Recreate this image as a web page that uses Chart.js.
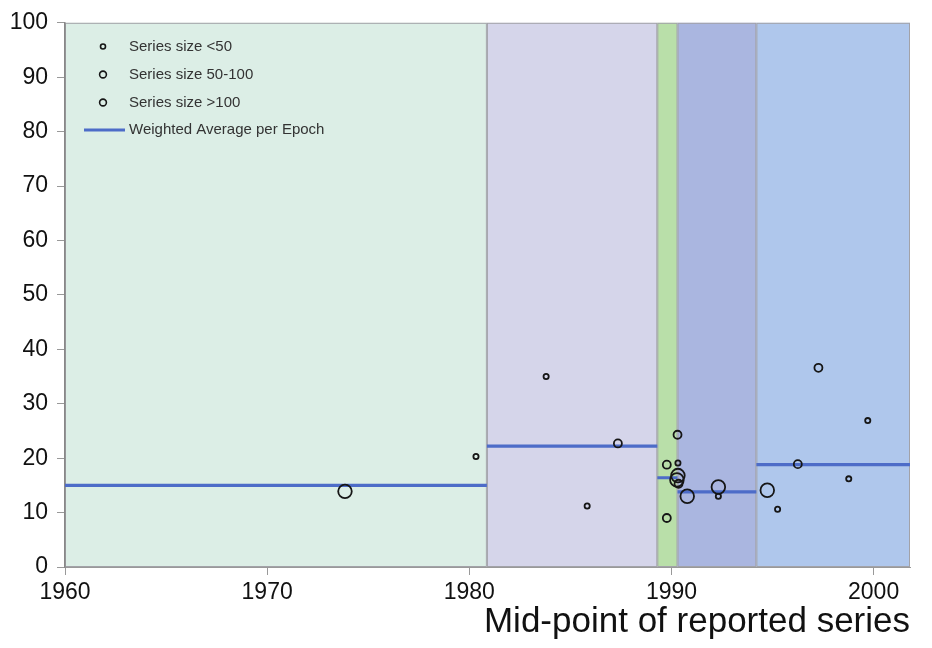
<!DOCTYPE html>
<html>
<head>
<meta charset="utf-8">
<script src="https://cdn.jsdelivr.net/npm/chart.js@4/dist/chart.umd.min.js"></script>
<style>
  html, body { margin: 0; background: #fff; }
  #wrap { width: 932px; height: 648px; }
</style>
</head>
<body>
<div id="wrap"><canvas id="chart"></canvas></div>
<script>
// epochs (years) and their weighted averages
const epochBounds = [1960, 1980.87, 1989.3, 1990.3, 1994.2, 2001.8]
const epochAverages = [15.0, 22.2, 16.4, 13.8, 18.8]
const epochColors = ["#dceee6", "#d5d5ea", "#b9dfa9", "#aab6e0", "#afc7ec"]

// series size <50
const smallYears = [1980.33, 1983.8, 1985.83, 1990.32, 1992.32, 1995.25, 1998.77, 1999.71]
const smallValues = [20.3, 35.0, 11.2, 19.1, 13.0, 10.6, 16.2, 26.9]
// series size 50-100
const mediumYears = [1987.35, 1990.3, 1989.77, 1990.35, 1989.77, 1996.25, 1997.27]
const mediumValues = [22.7, 24.3, 18.8, 15.3, 9.0, 18.9, 36.6]
// series size >100
const largeYears = [1973.85, 1990.32, 1990.27, 1990.78, 1992.32, 1994.74]
const largeValues = [13.9, 16.8, 16.0, 13.0, 14.7, 14.1]

const xTicks = [1960, 1970, 1980, 1990, 2000]
const legendLabels = ["Series size <50", "Series size 50-100", "Series size >100", "Weighted Average per Epoch"]

const toPoints = (xs, ys) => xs.map((x, i) => ({x: x, y: ys[i]}))

function avgPoints() {
    let pts = []
    epochAverages.forEach((a, i) => {
        pts.push({x: epochBounds[i], y: a})
        pts.push({x: epochBounds[i + 1], y: a})
        pts.push({x: epochBounds[i + 1], y: null})
    })
    return pts
}

const FONT = "'Liberation Sans', Arial, sans-serif"
const LINE_BLUE = "#4d6cc8"
const RING = "#161616"

const epochBands = {
    id: "epochBands",
    beforeDraw(chart) {
        const {ctx, chartArea, scales} = chart
        ctx.save()
        for (let i = 0; i < epochColors.length; i++) {
            const x0 = scales.x.getPixelForValue(epochBounds[i])
            const x1 = scales.x.getPixelForValue(epochBounds[i + 1])
            ctx.fillStyle = epochColors[i]
            ctx.fillRect(x0, chartArea.top, x1 - x0, chartArea.bottom - chartArea.top)
            ctx.strokeStyle = "#a2a2a8"
            ctx.lineWidth = 1
            ctx.strokeRect(x0 + 0.5, chartArea.top + 0.5, x1 - x0 - 1, chartArea.bottom - chartArea.top - 1)
        }
        ctx.restore()
    }
}

const inlineLegend = {
    id: "inlineLegend",
    afterDraw(chart) {
        const ctx = chart.ctx
        const rows = [46.5, 74.5, 102.5, 130]
        const radii = [2.5, 3.4, 3.4]
        ctx.save()
        ctx.font = "15px " + FONT
        ctx.textBaseline = "middle"
        legendLabels.forEach((t, i) => {
            if (i < 3) {
                ctx.beginPath()
                ctx.arc(103, rows[i], radii[i], 0, Math.PI * 2)
                ctx.strokeStyle = RING
                ctx.lineWidth = 1.6
                ctx.stroke()
            } else {
                ctx.beginPath()
                ctx.moveTo(84, rows[i])
                ctx.lineTo(125, rows[i])
                ctx.strokeStyle = LINE_BLUE
                ctx.lineWidth = 3
                ctx.stroke()
            }
            ctx.fillStyle = "#333"
            ctx.fillText(t, 129, rows[i])
        })
        ctx.restore()
    }
}

const ringStyle = (r) => ({
    pointRadius: r,
    pointHoverRadius: r,
    pointBorderColor: RING,
    pointBackgroundColor: "rgba(0,0,0,0)",
    pointBorderWidth: 1.8
})

new Chart(document.getElementById("chart"), {
    type: "scatter",
    data: {
        datasets: [
            Object.assign({label: legendLabels[0], data: toPoints(smallYears, smallValues)}, ringStyle(2.6)),
            Object.assign({label: legendLabels[1], data: toPoints(mediumYears, mediumValues)}, ringStyle(4)),
            Object.assign({label: legendLabels[2], data: toPoints(largeYears, largeValues)}, ringStyle(6.8)),
            {
                label: legendLabels[3],
                data: avgPoints(),
                showLine: true,
                spanGaps: false,
                borderColor: LINE_BLUE,
                borderWidth: 3.2,
                pointRadius: 0,
                order: 5
            }
        ]
    },
    options: {
        responsive: true,
        maintainAspectRatio: false,
        animation: false,
        layout: {padding: {top: 20, right: 22, left: 0, bottom: 0}},
        plugins: {
            legend: {display: false},
            tooltip: {enabled: false}
        },
        scales: {
            x: {
                type: "linear",
                min: 1960,
                max: 2001.8,
                afterBuildTicks: (s) => { s.ticks = xTicks.map(v => ({value: v})) },
                afterFit: (s) => { s.height = 81 },
                grid: {drawOnChartArea: false, tickLength: 8, color: "#999"},
                border: {color: "#999", width: 1},
                ticks: {
                    color: "#111",
                    padding: 4,
                    font: {family: FONT, size: 23},
                    callback: (v) => String(v)
                },
                title: {
                    display: true,
                    text: "Mid-point of reported series",
                    align: "end",
                    color: "#111",
                    font: {family: FONT, size: 35},
                    padding: {top: 0, bottom: 5}
                }
            },
            y: {
                min: 0,
                max: 100,
                afterFit: (s) => { s.width = 65 },
                grid: {drawOnChartArea: false, tickLength: 8, color: "#999"},
                border: {color: "#888", width: 1.5},
                ticks: {
                    stepSize: 10,
                    color: "#111",
                    padding: 9,
                    font: {family: FONT, size: 23}
                }
            }
        }
    },
    plugins: [epochBands, inlineLegend]
})
</script>
</body>
</html>
